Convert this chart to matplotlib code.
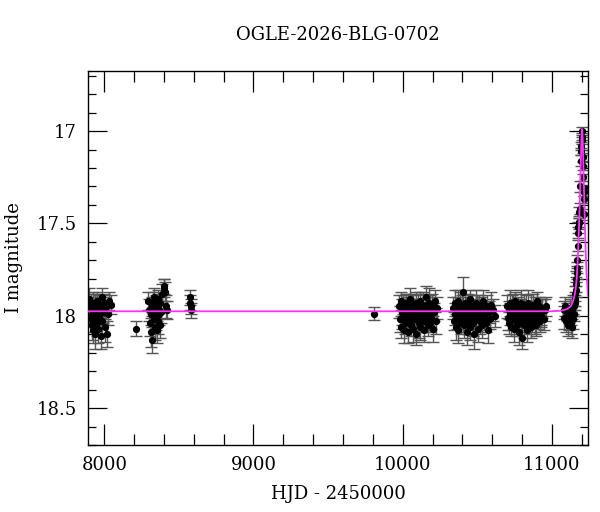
import matplotlib
matplotlib.use("Agg")
import matplotlib.pyplot as plt
from matplotlib.ticker import MultipleLocator

plt.rcParams['font.family'] = ['DejaVu Serif']

# --- photometry (HJD - 2450000, I mag, error) ---
hjd_s1 = [7898, 7903, 7908, 7912, 7915, 7919, 7922, 7926, 7930, 7933, 7937, 7941, 7944, 7948, 7952, 7956,
          7959, 7963, 7967, 7971, 7975, 7979, 7983, 7988, 7992, 7997, 8002, 8008, 8015, 8022, 8031, 8042]
mag_s1 = [17.91, 17.96, 18.02, 17.94, 18.05, 17.99, 17.93, 18.08, 17.97, 18.01, 17.95, 18.10, 17.98, 17.92, 18.04, 17.96,
          18.07, 17.94, 18.00, 17.97, 18.11, 17.95, 17.90, 18.03, 17.98, 17.93, 18.06, 17.96, 18.10, 17.99, 17.92, 17.94]
err_s1 = [0.06, 0.05, 0.07, 0.06, 0.08, 0.05, 0.06, 0.07, 0.06, 0.05, 0.07, 0.08, 0.06, 0.05, 0.07, 0.06,
          0.08, 0.05, 0.06, 0.07, 0.07, 0.06, 0.05, 0.07, 0.06, 0.05, 0.08, 0.06, 0.07, 0.06, 0.05, 0.05]

hjd_s2 = [8212, 8292, 8298, 8305, 8310, 8315, 8319, 8322, 8326, 8330, 8333, 8336, 8339, 8342, 8345, 8348,
          8351, 8354, 8357, 8360, 8363, 8367, 8371, 8376, 8382, 8390, 8398, 8403, 8408, 8414, 8420,
          8575, 8577, 8579, 8581]
mag_s2 = [18.07, 17.92, 17.97, 18.04, 17.99, 18.09, 17.95, 18.13, 17.93, 18.02, 17.98, 17.90, 18.06, 17.96, 18.00, 17.94,
          18.08, 17.97, 17.91, 18.03, 17.96, 17.99, 18.05, 17.93, 17.98, 17.88, 17.85, 17.84, 17.87, 17.95, 17.97,
          17.90, 17.93, 17.95, 17.97]
err_s2 = [0.04, 0.05, 0.06, 0.07, 0.06, 0.08, 0.05, 0.07, 0.06, 0.07, 0.06, 0.05, 0.07, 0.06, 0.08, 0.05,
          0.07, 0.06, 0.05, 0.07, 0.06, 0.06, 0.07, 0.05, 0.06, 0.05, 0.05, 0.04, 0.05, 0.06, 0.05,
          0.04, 0.04, 0.04, 0.04]

hjd_s3 = [9808]
mag_s3 = [17.99]
err_s3 = [0.035]

hjd_s4 = [9978, 9982, 9986, 9990, 9994, 9998, 10002, 10006, 10010, 10014, 10018, 10022, 10026, 10030, 10034,
          10038, 10042, 10046, 10050, 10054, 10058, 10062, 10066, 10070, 10074, 10078, 10082, 10086, 10090,
          10094, 10098, 10102, 10106, 10110, 10114, 10118, 10122, 10126, 10130, 10134, 10138, 10142, 10146,
          10150, 10154, 10158, 10162, 10166, 10170, 10174, 10178, 10182, 10186, 10190, 10196, 10202, 10208,
          10215, 10222, 10232]
mag_s4 = [17.95, 18.02, 17.92, 18.06, 17.98, 18.01, 17.94, 18.08, 17.97, 17.99, 18.04, 17.93, 18.00, 17.96, 18.09,
          17.95, 18.03, 17.91, 17.98, 18.05, 17.97, 18.01, 17.94, 18.07, 17.99, 17.96, 18.02, 17.93, 18.10,
          17.98, 18.00, 17.95, 18.04, 17.97, 17.92, 18.06, 17.99, 18.01, 17.96, 18.03, 17.94, 18.08, 17.98,
          17.95, 18.02, 17.90, 18.00, 17.97, 18.05, 17.93, 17.99, 18.04, 17.96, 18.01, 17.94, 18.07, 17.98,
          17.92, 18.03, 17.96]
err_s4 = [0.06, 0.07, 0.05, 0.06, 0.07, 0.06, 0.05, 0.07, 0.06, 0.08, 0.06, 0.05, 0.07, 0.06, 0.06,
          0.07, 0.05, 0.06, 0.07, 0.06, 0.08, 0.05, 0.06, 0.07, 0.06, 0.05, 0.07, 0.06, 0.06,
          0.07, 0.05, 0.06, 0.08, 0.06, 0.05, 0.07, 0.06, 0.07, 0.05, 0.06, 0.07, 0.06, 0.05,
          0.07, 0.06, 0.06, 0.05, 0.07, 0.06, 0.08, 0.06, 0.05, 0.07, 0.06, 0.06, 0.07, 0.05,
          0.06, 0.07, 0.06]

hjd_s5 = [10340, 10344, 10349, 10353, 10357, 10361, 10365, 10369, 10373, 10377, 10381, 10385, 10389, 10393,
          10397, 10401, 10405, 10409, 10413, 10417, 10421, 10425, 10429, 10433, 10437, 10441, 10445, 10449,
          10453, 10457, 10461, 10465, 10469, 10473, 10477, 10481, 10485, 10489, 10493, 10497, 10501, 10505,
          10509, 10513, 10517, 10521, 10525, 10529, 10534, 10539, 10544, 10550, 10556, 10562, 10569, 10576,
          10584, 10593, 10605, 10618]
mag_s5 = [17.96, 18.03, 17.93, 17.99, 18.06, 17.95, 18.01, 17.92, 18.08, 17.97, 18.00, 17.94, 18.04, 17.98,
          17.95, 18.02, 17.87, 17.99, 18.05, 17.93, 18.01, 17.96, 18.09, 17.97, 17.94, 18.03, 17.99, 17.91,
          18.06, 17.98, 18.00, 17.95, 18.04, 17.97, 18.10, 17.96, 18.01, 17.93, 18.02, 17.99, 17.95, 18.07,
          17.98, 17.94, 18.03, 18.00, 17.96, 18.05, 17.97, 17.92, 18.01, 17.99, 18.04, 17.95, 18.08, 17.98,
          18.02, 17.94, 17.97, 18.00]
err_s5 = [0.06, 0.05, 0.07, 0.06, 0.07, 0.05, 0.06, 0.06, 0.07, 0.05, 0.06, 0.07, 0.06, 0.05,
          0.06, 0.07, 0.08, 0.06, 0.07, 0.05, 0.06, 0.06, 0.07, 0.05, 0.06, 0.07, 0.06, 0.05,
          0.07, 0.06, 0.05, 0.06, 0.07, 0.06, 0.08, 0.05, 0.06, 0.07, 0.06, 0.05, 0.06, 0.07,
          0.06, 0.05, 0.07, 0.06, 0.06, 0.07, 0.05, 0.06, 0.07, 0.06, 0.05, 0.06, 0.07, 0.06,
          0.05, 0.07, 0.06, 0.06]

hjd_s6 = [10702, 10706, 10710, 10714, 10718, 10722, 10726, 10730, 10734, 10738, 10742, 10746, 10750, 10754,
          10758, 10762, 10766, 10770, 10774, 10778, 10782, 10786, 10790, 10794, 10798, 10802, 10806, 10810,
          10814, 10818, 10822, 10826, 10830, 10834, 10838, 10842, 10846, 10850, 10854, 10858, 10862, 10866,
          10870, 10874, 10878, 10882, 10886, 10890, 10894, 10898, 10902, 10907, 10912, 10918, 10924, 10930,
          10937, 10944, 10951, 10958]
mag_s6 = [17.95, 18.01, 17.97, 18.04, 17.93, 17.99, 18.06, 17.96, 18.02, 17.94, 18.00, 18.07, 17.97, 17.92,
          18.03, 17.98, 18.05, 17.95, 18.01, 17.99, 18.09, 17.96, 18.03, 17.93, 18.12, 18.00, 17.97, 18.05,
          17.94, 18.02, 17.99, 17.96, 18.08, 17.98, 18.01, 17.93, 18.04, 17.97, 18.00, 17.95, 18.06, 17.98,
          18.02, 17.94, 18.00, 17.97, 18.03, 17.96, 18.05, 17.92, 17.99, 18.01, 17.95, 18.03, 17.98, 18.00,
          17.96, 18.02, 17.97, 17.95]
err_s6 = [0.06, 0.07, 0.05, 0.06, 0.07, 0.06, 0.05, 0.07, 0.06, 0.06, 0.05, 0.07, 0.06, 0.05,
          0.07, 0.06, 0.06, 0.05, 0.07, 0.06, 0.07, 0.05, 0.06, 0.07, 0.06, 0.06, 0.05, 0.07,
          0.06, 0.06, 0.05, 0.07, 0.06, 0.06, 0.05, 0.07, 0.06, 0.05, 0.06, 0.07, 0.06, 0.05,
          0.07, 0.06, 0.06, 0.05, 0.07, 0.06, 0.06, 0.05, 0.07, 0.06, 0.05, 0.06, 0.07, 0.06,
          0.05, 0.06, 0.06, 0.05]

hjd_s7 = [11078, 11084, 11090, 11096, 11102, 11107, 11112, 11117, 11122, 11126, 11130, 11134, 11138, 11141,
          11144, 11147, 11150, 11153, 11156, 11158, 11160, 11162, 11164, 11166, 11168, 11170, 11173, 11176,
          11178, 11180, 11182, 11184, 11186, 11190, 11193, 11195, 11197, 11199, 11201, 11203, 11206, 11208,
          11210, 11212, 11214, 11216, 11218]
mag_s7 = [17.97, 18.01, 17.95, 18.03, 17.98, 18.05, 17.99, 18.02, 17.96, 18.04, 18.00, 18.06, 17.97, 18.02,
          17.94, 17.99, 17.95, 17.91, 17.93, 17.88, 17.86, 17.83, 17.80, 17.77, 17.74, 17.70, 17.62, 17.55,
          17.52, 17.50, 17.49, 17.44, 17.42, 17.30, 17.16, 17.11, 17.08, 17.00, 17.03, 17.05, 17.14, 17.19,
          17.25, 17.31, 17.33, 17.37, 17.45]
err_s7 = [0.05, 0.06, 0.05, 0.06, 0.05, 0.06, 0.05, 0.06, 0.05, 0.06, 0.05, 0.06, 0.05, 0.05,
          0.05, 0.04, 0.05, 0.04, 0.04, 0.04, 0.04, 0.04, 0.04, 0.03, 0.03, 0.03, 0.03, 0.03,
          0.03, 0.03, 0.03, 0.03, 0.03, 0.03, 0.03, 0.02, 0.02, 0.02, 0.02, 0.02, 0.02, 0.02,
          0.02, 0.02, 0.02, 0.02, 0.03]

# model curve
model_hjd = [7891, 11000, 11060, 11100, 11125, 11142, 11152, 11160, 11166, 11172, 11178, 11184, 11189,
             11194, 11198, 11201, 11204, 11207, 11211, 11216, 11221, 11226, 11232, 11242]
model_mag = [17.976, 17.976, 17.973, 17.965, 17.95, 17.92, 17.89, 17.85, 17.80, 17.72, 17.60, 17.46, 17.32,
             17.17, 17.05, 16.99, 16.99, 17.06, 17.19, 17.34, 17.50, 17.64, 17.77, 17.89]

hjd = hjd_s1 + hjd_s2 + hjd_s3 + hjd_s4 + hjd_s5 + hjd_s6 + hjd_s7
mag = mag_s1 + mag_s2 + mag_s3 + mag_s4 + mag_s5 + mag_s6 + mag_s7
err = err_s1 + err_s2 + err_s3 + err_s4 + err_s5 + err_s6 + err_s7

fig = plt.figure(figsize=(6.0, 5.12), dpi=100)
ax = fig.add_axes([0.1467, 0.1309, 0.8333, 0.7304])

ax.errorbar(hjd, mag, yerr=err, fmt='none', ecolor='#555555', elinewidth=1.0,
            capsize=4, capthick=1.0, zorder=2)
ax.plot(hjd, mag, 'o', color='black', markersize=4.2, zorder=3)
ax.plot(model_hjd, model_mag, color='#ff33ff', linewidth=1.3, zorder=4)

ax.set_xlim(7891, 11242)
ax.set_ylim(18.70, 16.675)

ax.xaxis.set_major_locator(MultipleLocator(1000))
ax.xaxis.set_minor_locator(MultipleLocator(200))
ax.yaxis.set_major_locator(MultipleLocator(0.5))
ax.yaxis.set_minor_locator(MultipleLocator(0.1))
ax.yaxis.set_major_formatter(plt.FuncFormatter(lambda v, p: f"{v:g}"))

ax.tick_params(axis='both', which='both', direction='in', top=True, right=True, labelsize=13, width=0.9)
ax.tick_params(axis='x', which='major', length=15, pad=8)
ax.tick_params(axis='x', which='minor', length=8)
ax.tick_params(axis='y', which='major', length=14, pad=8)
ax.tick_params(axis='y', which='minor', length=6)
for s in ax.spines.values():
    s.set_linewidth(1.0)

ax.set_xlabel("HJD - 2450000", fontsize=13, labelpad=8)
ax.set_ylabel("I magnitude", fontsize=13, labelpad=10)
ax.set_title("OGLE-2026-BLG-0702", fontsize=13, pad=22)

fig.savefig("out.png", dpi=100)
